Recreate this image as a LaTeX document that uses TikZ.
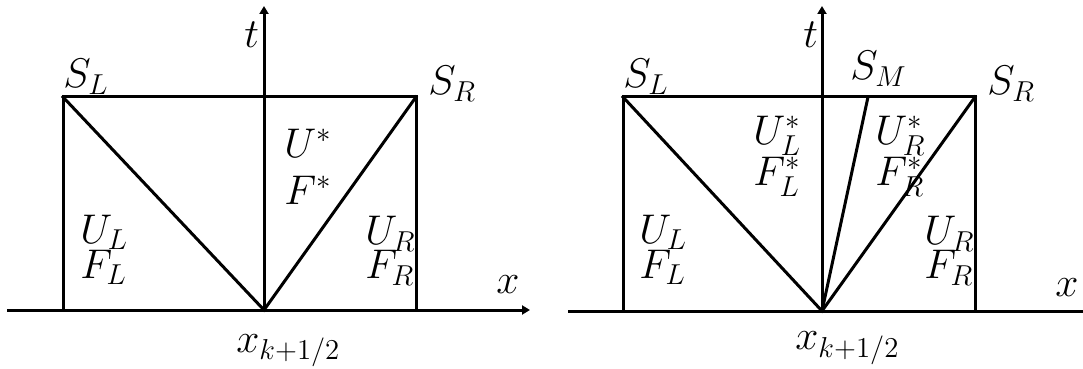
\documentclass[tikz,border=0pt]{standalone}
\usetikzlibrary{arrows.meta}
\DeclareMathSizes{20}{20}{14.5}{11}
\newcommand{\twolines}[3]{\vtop{\baselineskip=#1\lineskiplimit=-30pt\hbox{#2}\hbox{#3}}}
\begin{document}
\begin{tikzpicture}[x=0.5pt,y=-0.5pt,
  ln/.style={line width=1.5pt,line cap=rect},
  ax/.style={line width=1.5pt,-{Triangle[length=4pt,width=4.5pt]}},
  lbl/.style={inner sep=0pt,anchor=base west,font=\fontsize{20}{24}\selectfont}]
\useasboundingbox (0,0) rectangle (1083,369);
% ---------- left diagram ----------
\coordinate (aO) at (264,310);
\coordinate (aXs) at (7,310);
\coordinate (aXe) at (530,310);
\coordinate (aTe) at (264,6);
\coordinate (aBL) at (63,310);
\coordinate (aBR) at (416,310);
\coordinate (aTL) at (63,97);
\coordinate (aTR) at (416,97);
\draw[ax] (aXs) -- (aXe);
\draw[ax] (aO) -- (aTe);
\draw[ln] (aBL) -- (aTL) -- (aTR) -- (aBR);
\draw[ln] (aTL) -- (aO) -- (aTR);
\node[lbl] (aSL) at (63,88) {$S_L$};
\node[lbl] (aSR) at (428,95) {$S_R$};
\node[lbl] (at) at (244,48) {$t$};
\node[lbl] (aUF) at (284,158) {\twolines{23.5pt}{$U^*$}{$F^*$}};
\node[lbl] (aULFL) at (80,243) {\twolines{17.5pt}{$U_L$}{$F_L$}};
\node[lbl] (aURFR) at (365,245) {\twolines{17pt}{$U_R$}{$F_R$}};
\node[lbl] (ax) at (496,293) {$x$};
\node[lbl] (axk) at (236,352) {$x_{k+1/2}$};
% ---------- right diagram ----------
\coordinate (bO) at (822,311);
\coordinate (bXs) at (568,311);
\coordinate (bXe) at (1083,311);
\coordinate (bTe) at (822,6);
\coordinate (bBL) at (623,311);
\coordinate (bBR) at (975,311);
\coordinate (bTL) at (623,97);
\coordinate (bTR) at (975,97);
\coordinate (bTM) at (868,97);
\draw[line width=1.5pt] (bXs) -- (bXe);
\draw[ax] (bO) -- (bTe);
\draw[ln] (bBL) -- (bTL) -- (bTR) -- (bBR);
\draw[ln] (bTL) -- (bO) -- (bTR);
\draw[ln] (bO) -- (bTM);
\node[lbl] (bSL) at (623,88) {$S_L$};
\node[lbl] (bSM) at (850,80) {$S_M$};
\node[lbl] (bSR) at (987,95) {$S_R$};
\node[lbl] (bt) at (803,48) {$t$};
\node[lbl] (bULs) at (753,145) {\twolines{20.5pt}{$U_L^*$}{$F_L^*$}};
\node[lbl] (bURs) at (875,145) {\twolines{20.5pt}{$U_R^*$}{$F_R^*$}};
\node[lbl] (bULFL) at (639,243) {\twolines{17.5pt}{$U_L$}{$F_L$}};
\node[lbl] (bURFR) at (924,245) {\twolines{17pt}{$U_R$}{$F_R$}};
\node[lbl] (bx) at (1055,297) {$x$};
\node[lbl] (bxk) at (795,350) {$x_{k+1/2}$};
\end{tikzpicture}
\end{document}
